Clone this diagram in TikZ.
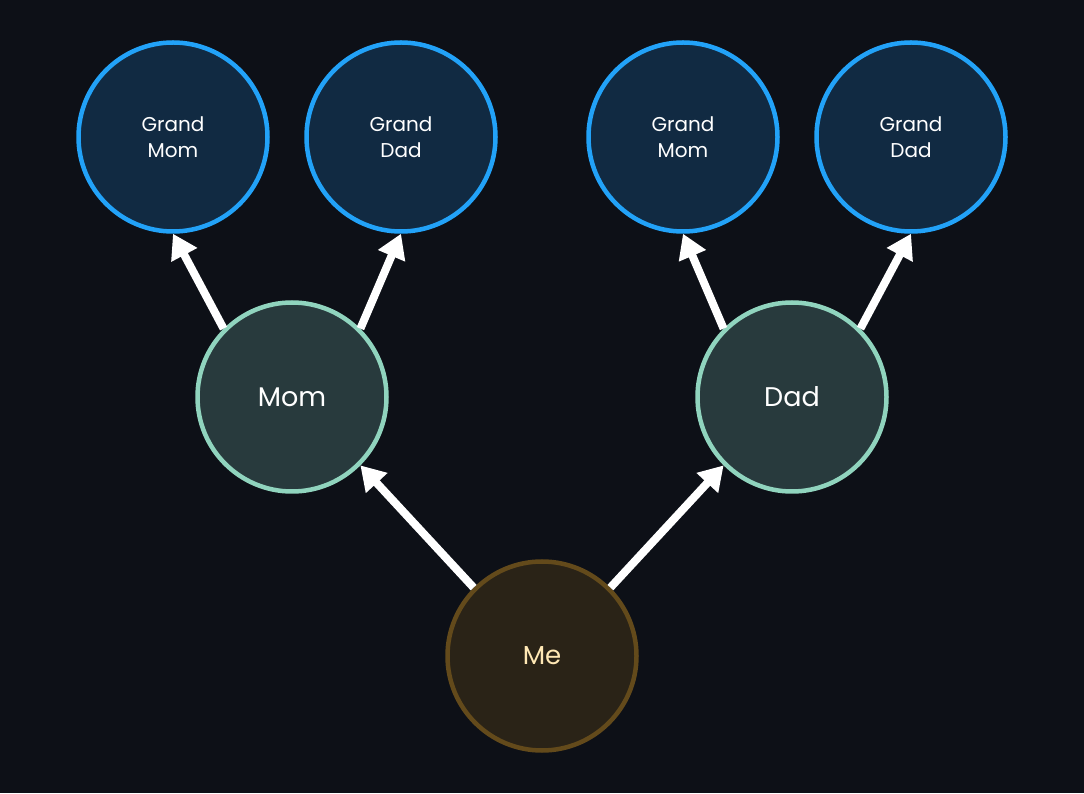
\documentclass[tikz,border=0pt]{standalone}
\usepackage{fontspec}
\setmainfont{Poppins}
\usetikzlibrary{arrows.meta}

\definecolor{bgdark}{HTML}{0D1017}
\definecolor{grandfill}{HTML}{112A42}
\definecolor{grandline}{HTML}{22A2F8}
\definecolor{parentfill}{HTML}{283A3D}
\definecolor{parentline}{HTML}{90D4BE}
\definecolor{mefill}{HTML}{2A2317}
\definecolor{meline}{HTML}{634A1B}
\definecolor{metext}{HTML}{FFE8B5}

\begin{document}
\begin{tikzpicture}[x=1pt,y=1pt,
  person/.style = {circle,draw,line width=4.5pt,inner sep=0pt,minimum size=189pt},
  grand/.style = {person,fill=grandfill,draw=grandline,text=white,align=center,
    font=\fontsize{20}{26}\selectfont},
  parent/.style = {person,fill=parentfill,draw=parentline,text=white,
    font=\fontsize{27}{32}\selectfont},
  me/.style = {person,fill=mefill,draw=meline,text=metext,
    font=\fontsize{26}{32}\selectfont},
  link/.style = {white,line width=8pt,-{Triangle[width=28pt,length=24pt]}}]
\fill[bgdark] (0,0) rectangle (1084,793);
\useasboundingbox (0,0) rectangle (1084,793);

\node[grand] (gm_1) at (173,656) {Grand\\Mom};
\node[grand] (gd_1) at (401,656) {Grand\\Dad};
\node[grand] (gm_2) at (683,656) {Grand\\Mom};
\node[grand] (gd_2) at (911,656) {Grand\\Dad};

\node[parent] (mom) at (292,396) {Mom};
\node[parent] (dad) at (792,396) {Dad};

\node[me] (me) at (542,137) {Me};

\draw[link] (me.north west) -- (mom.south east);
\draw[link] (me.north east) -- (dad.south west);

\draw[link] (mom.north west) -- (gm_1.south);
\draw[link] (mom.north east) -- (gd_1.south);
\draw[link] (dad.north west) -- (gm_2.south);
\draw[link] (dad.north east) -- (gd_2.south);

\end{tikzpicture}
\end{document}
